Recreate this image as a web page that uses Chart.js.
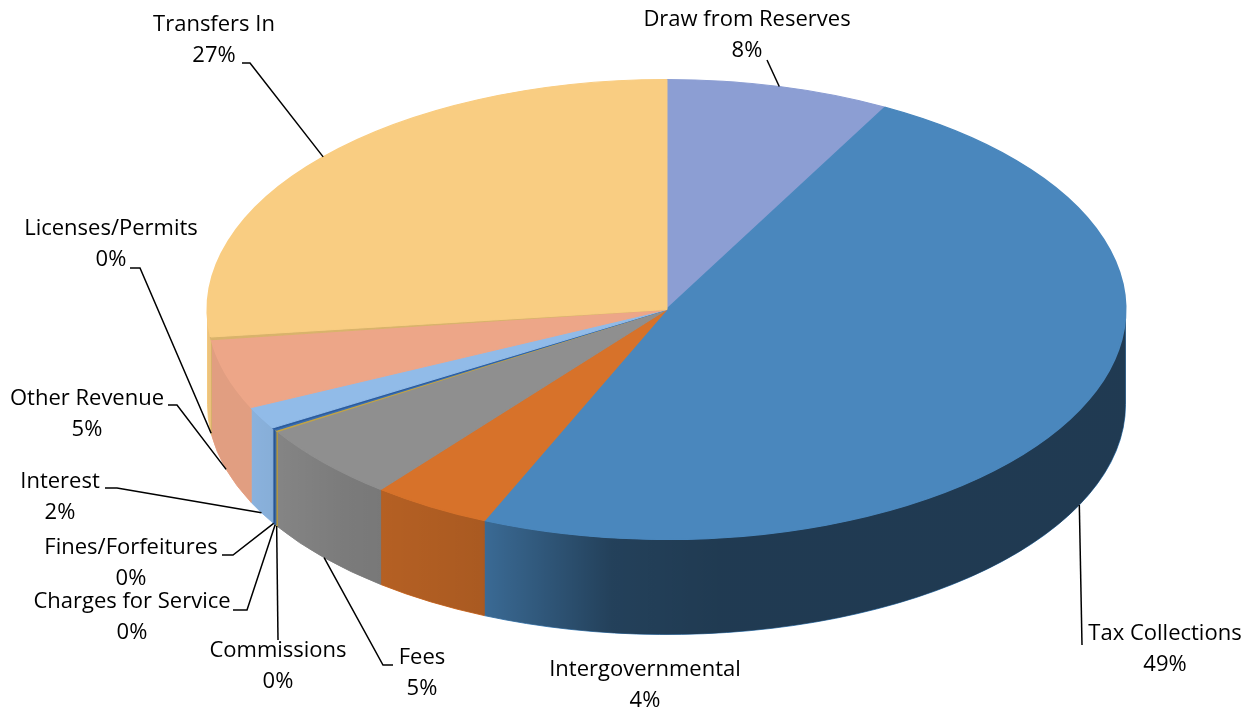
<!DOCTYPE html>
<html lang="en">
<head>
<meta charset="UTF-8" />
<meta name="viewport" content="width=device-width, initial-scale=1.0" />
<title>Revenue Sources</title>
<script src="https://cdn.jsdelivr.net/npm/chart.js@4.4.1/dist/chart.umd.min.js"></script>
<style>
  html, body { margin: 0; padding: 0; background: #fff; }
  canvas { display: block; }
</style>
</head>
<body>
<canvas id="chart" width="1252" height="712"></canvas>
<script>
// revenue by source, share of total (%)
const categories = ["Draw from Reserves", "Tax Collections", "Intergovernmental", "Fees", "Commissions",
  "Charges for Service", "Fines/Forfeitures", "Interest", "Other Revenue", "Licenses/Permits", "Transfers In"];
const shares = [7.9, 48.6, 4.2, 5.4, 0.1, 0.1, 0.1, 1.6, 4.9, 0.2, 26.9];
const colors = ["#8c9ed3", "#4a87bd", "#d7722a", "#8f8f8f", "#c2a445", "#3a6db0", "#2a5a9c",
  "#91bbe8", "#eda688", "#d9b36b", "#f9cd82"];

// where each label sits (centre of the name line) and the leader from it towards its slice
const labelPos = [[747, 20], [1165, 634], [645, 670], [422, 658], [278, 651], [132, 602],
  [131, 548], [60, 482], [87, 399], [111, 229], [214, 25]];
const leaders = [
  [[767, 60]],
  [[1082, 645]],
  null,
  [[393, 665], [383, 665]],
  [[278, 640]],
  [[233, 610], [247, 610]],
  [[222, 555], [233, 555]],
  [[105, 488], [117, 488]],
  [[168, 405], [177, 405]],
  [[130, 268], [140, 268]],
  [[242, 63], [250, 63]]
];

const STRETCH = 459 / 230; // round pie is stretched sideways into a tilted disc
const DEPTH = 95;          // thickness of the disc

function geom(chart) {
  const arc = chart.getDatasetMeta(0).data[0];
  return { cx: arc.x, cy: arc.y, rx: arc.outerRadius * STRETCH, ry: arc.outerRadius };
}

// parts of [s, e] that face the viewer (0..PI on the canvas)
function frontSpans(s, e) {
  const spans = [];
  for (let k = -1; k <= 1; k++) {
    const off = k * 2 * Math.PI;
    const lo = Math.max(s, off), hi = Math.min(e, off + Math.PI);
    if (hi > lo) spans.push([lo - off, hi - off]);
  }
  return spans;
}

function wallPath(ctx, g, a, b) {
  ctx.beginPath();
  ctx.ellipse(g.cx, g.cy, g.rx, g.ry, 0, a, b);
  ctx.ellipse(g.cx, g.cy + DEPTH, g.rx, g.ry, 0, b, a, true);
  ctx.closePath();
}

const tiltPlugin = {
  id: "tilt",
  beforeDatasetsDraw(chart) {
    const ctx = chart.ctx;
    const g = geom(chart);
    const arcs = chart.getDatasetMeta(0).data;

    // side walls
    arcs.forEach((arc, i) => {
      frontSpans(arc.startAngle, arc.endAngle).forEach(([a, b]) => {
        wallPath(ctx, g, a, b);
        ctx.fillStyle = colors[i];
        ctx.strokeStyle = colors[i];
        ctx.lineWidth = 1;
        ctx.fill();
        ctx.stroke();
      });
    });

    // light from the left, walls darken towards the right
    const shade = ctx.createLinearGradient(g.cx - g.rx, 0, g.cx + g.rx, 0);
    shade.addColorStop(0, "rgba(0,0,0,0.05)");
    shade.addColorStop(0.05, "rgba(0,0,0,0.05)");
    shade.addColorStop(0.15, "rgba(0,0,0,0.14)");
    shade.addColorStop(0.3, "rgba(0,0,0,0.21)");
    shade.addColorStop(0.44, "rgba(0,0,0,0.52)");
    shade.addColorStop(0.56, "rgba(0,0,0,0.57)");
    shade.addColorStop(1, "rgba(0,0,0,0.57)");
    wallPath(ctx, g, 0, Math.PI);
    ctx.fillStyle = shade;
    ctx.fill();

    // top face
    ctx.save();
    ctx.translate(g.cx, g.cy);
    ctx.scale(STRETCH, 1);
    ctx.translate(-g.cx, -g.cy);
  },
  afterDatasetsDraw(chart) {
    chart.ctx.restore();
  },
  afterDraw(chart) {
    const ctx = chart.ctx;
    const g = geom(chart);
    const arcs = chart.getDatasetMeta(0).data;
    const total = shares.reduce((a, b) => a + b, 0);

    ctx.save();
    ctx.strokeStyle = "#000";
    ctx.lineWidth = 1.5;
    arcs.forEach((arc, i) => {
      const path = leaders[i];
      if (!path) return;
      const m = (arc.startAngle + arc.endAngle) / 2;
      const x = g.cx + g.rx * Math.cos(m);
      let y = g.cy + g.ry * Math.sin(m);
      if (Math.sin(m) > 0) y += DEPTH;
      ctx.beginPath();
      ctx.moveTo(path[0][0], path[0][1]);
      path.slice(1).forEach(p => ctx.lineTo(p[0], p[1]));
      ctx.lineTo(x, y);
      ctx.stroke();
    });

    ctx.fillStyle = "#000";
    ctx.font = '22px "Open Sans"';
    ctx.textAlign = "center";
    ctx.textBaseline = "middle";
    categories.forEach((name, i) => {
      const [x, y] = labelPos[i];
      ctx.fillText(name, x, y);
      ctx.fillText(Math.round(shares[i] / total * 100) + "%", x, y + 31);
    });
    ctx.restore();
  }
};

new Chart(document.getElementById("chart"), {
  type: "pie",
  data: {
    labels: categories,
    datasets: [{
      data: shares,
      backgroundColor: colors,
      borderColor: colors,
      borderWidth: 1
    }]
  },
  options: {
    responsive: false,
    animation: false,
    events: [],
    layout: { padding: { left: 436, right: 355, top: 79, bottom: 172 } },
    plugins: {
      legend: { display: false },
      tooltip: { enabled: false }
    }
  },
  plugins: [tiltPlugin]
});
</script>
</body>
</html>
